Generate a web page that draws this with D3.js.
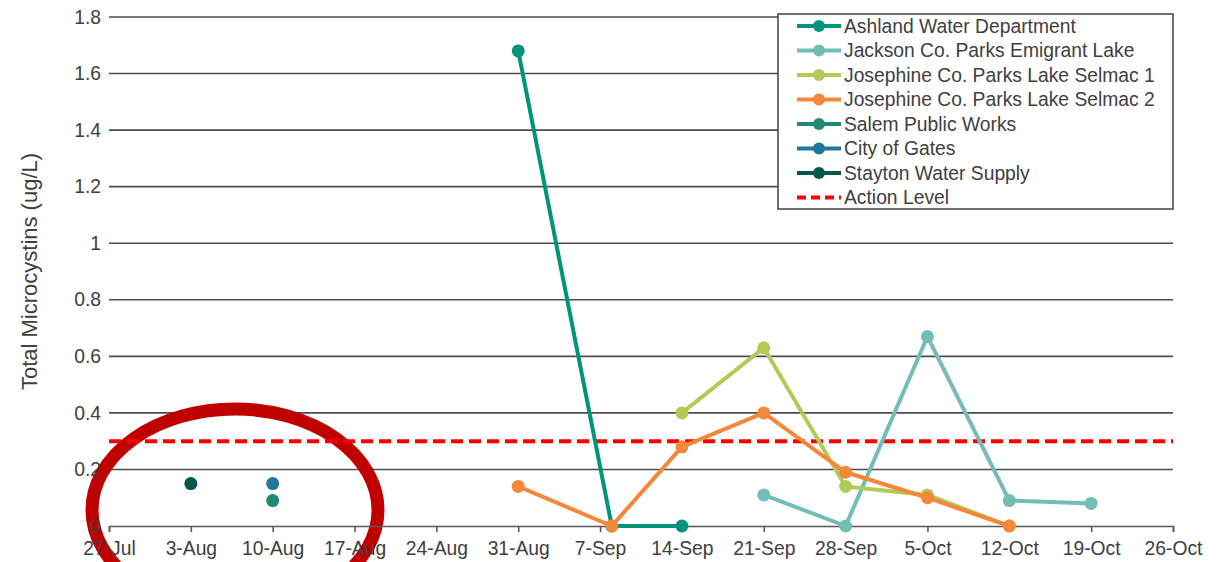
<!DOCTYPE html>
<html>
<head>
<meta charset="utf-8">
<script src="https://cdn.jsdelivr.net/npm/d3@7"></script>
<style>
  body { margin: 0; background: #fff; }
  svg { display: block; font-family: "Liberation Sans", Arial, sans-serif; }
</style>
</head>
<body>
<svg id="chart" width="1230" height="562"></svg>
<script>
// Sampling dates (2015) and microcystin results per water system
const tickDates = ["2015-07-27","2015-08-03","2015-08-10","2015-08-17","2015-08-24","2015-08-31",
  "2015-09-07","2015-09-14","2015-09-21","2015-09-28","2015-10-05","2015-10-12","2015-10-19","2015-10-26"];
const yTicks = [0, 0.2, 0.4, 0.6, 0.8, 1, 1.2, 1.4, 1.6, 1.8];

const ashlandDates = ["2015-08-31","2015-09-08","2015-09-14"];
const ashlandValues = [1.68, 0, 0];

const emigrantDates = ["2015-09-21","2015-09-28","2015-10-05","2015-10-12","2015-10-19"];
const emigrantValues = [0.11, 0, 0.67, 0.09, 0.08];

const selmac1Dates = ["2015-09-14","2015-09-21","2015-09-28","2015-10-05","2015-10-12"];
const selmac1Values = [0.40, 0.63, 0.14, 0.11, 0];

const selmac2Dates = ["2015-08-31","2015-09-08","2015-09-14","2015-09-21","2015-09-28","2015-10-05","2015-10-12"];
const selmac2Values = [0.14, 0, 0.28, 0.40, 0.19, 0.10, 0];

const salemDates = ["2015-08-10"];
const salemValues = [0.09];

const gatesDates = ["2015-08-10"];
const gatesValues = [0.15];

const staytonDates = ["2015-08-03"];
const staytonValues = [0.15];

const actionLevel = 0.3;

const seriesNames = ["Ashland Water Department","Jackson Co. Parks Emigrant Lake",
  "Josephine Co. Parks Lake Selmac 1","Josephine Co. Parks Lake Selmac 2",
  "Salem Public Works","City of Gates","Stayton Water Supply"];
const seriesColors = ["#00947c","#72bdb6","#b1cb57","#f5873a","#218a72","#22769c","#00584a"];
const seriesDates = [ashlandDates, emigrantDates, selmac1Dates, selmac2Dates, salemDates, gatesDates, staytonDates];
const seriesValues = [ashlandValues, emigrantValues, selmac1Values, selmac2Values, salemValues, gatesValues, staytonValues];

const parse = d3.timeParse("%Y-%m-%d");
const fmt = d3.timeFormat("%-d-%b");
const fontSize = "19.3px";
const textColor = "#404040";

const svg = d3.select("#chart");
const margin = {left: 109, right: 57, top: 17, bottom: 36};
const W = 1230, H = 562;

const x = d3.scaleTime()
  .domain([parse(tickDates[0]), parse(tickDates[tickDates.length - 1])])
  .range([margin.left, W - margin.right]);
const y = d3.scaleLinear().domain([0, 1.8]).range([H - margin.bottom, margin.top]);

// Horizontal gridlines
svg.append("g")
  .selectAll("line")
  .data(yTicks.filter(v => v > 0))
  .join("line")
  .attr("x1", x.range()[0]).attr("x2", x.range()[1])
  .attr("y1", d => y(d)).attr("y2", d => y(d))
  .attr("stroke", "#4d4d4d").attr("stroke-width", 1.6);

// Highlight ellipse around early-August samples
svg.append("ellipse")
  .attr("cx", 235).attr("cy", 510).attr("rx", 143).attr("ry", 101)
  .attr("fill", "none").attr("stroke", "#c00000").attr("stroke-width", 13);

// Y axis labels
const yAxis = d3.axisLeft(y).tickValues(yTicks).tickSize(0).tickPadding(0)
  .tickFormat(d => d3.format("~g")(d));
const gy = svg.append("g").attr("transform", `translate(${margin.left - 8},0)`).call(yAxis);
gy.select(".domain").remove();
gy.selectAll("text").attr("fill", textColor).style("font-size", fontSize)
  .style("font-family", "'Liberation Sans', Arial, sans-serif");

// X axis with weekly ticks
const xAxis = d3.axisBottom(x).tickValues(tickDates.map(parse)).tickSize(6).tickPadding(9).tickFormat(fmt);
const gx = svg.append("g").attr("transform", `translate(0,${y(0)})`).call(xAxis);
gx.select(".domain").attr("stroke", "#595959").attr("stroke-width", 1.6);
gx.selectAll(".tick line").attr("stroke", "#595959").attr("stroke-width", 1.6);
gx.selectAll("text").attr("fill", textColor).style("font-size", fontSize)
  .style("font-family", "'Liberation Sans', Arial, sans-serif");

// Y axis title
svg.append("text")
  .attr("transform", `translate(37,${(y(0) + y(1.8)) / 2}) rotate(-90)`)
  .attr("text-anchor", "middle")
  .attr("fill", textColor)
  .style("font-size", "22px")
  .text("Total Microcystins (ug/L)");

// Action level
svg.append("line")
  .attr("x1", x.range()[0]).attr("x2", x.range()[1])
  .attr("y1", y(actionLevel)).attr("y2", y(actionLevel))
  .attr("stroke", "#ff0000").attr("stroke-width", 4)
  .attr("stroke-dasharray", "12,6");

// Series lines and markers
const line = d3.line().x(d => x(d.date)).y(d => y(d.value));
seriesNames.forEach((name, i) => {
  const pts = seriesDates[i].map((d, j) => ({date: parse(d), value: seriesValues[i][j]}));
  const g = svg.append("g");
  if (pts.length > 1) {
    g.append("path").datum(pts)
      .attr("d", line).attr("fill", "none")
      .attr("stroke", seriesColors[i]).attr("stroke-width", 4)
      .attr("stroke-linejoin", "round");
  }
  g.selectAll("circle").data(pts).join("circle")
    .attr("cx", d => x(d.date)).attr("cy", d => y(d.value))
    .attr("r", 6.5).attr("fill", seriesColors[i]);
});

// Legend
const lg = svg.append("g");
lg.append("rect").attr("x", 778).attr("y", 14).attr("width", 395).attr("height", 195)
  .attr("fill", "#fff").attr("stroke", "#404040").attr("stroke-width", 1.5);
const legendItems = seriesNames.map((n, i) => ({name: n, color: seriesColors[i], dash: false}))
  .concat([{name: "Action Level", color: "#ff0000", dash: true}]);
legendItems.forEach((it, i) => {
  const cy = 26 + i * 24.5;
  lg.append("line").attr("x1", 797).attr("x2", 841).attr("y1", cy).attr("y2", cy)
    .attr("stroke", it.color).attr("stroke-width", 4)
    .attr("stroke-dasharray", it.dash ? "9,5" : null);
  if (!it.dash) lg.append("circle").attr("cx", 819).attr("cy", cy).attr("r", 6).attr("fill", it.color);
  lg.append("text").attr("x", 844).attr("y", cy).attr("dy", "0.35em")
    .attr("fill", textColor).style("font-size", fontSize).text(it.name);
});
</script>
</body>
</html>
